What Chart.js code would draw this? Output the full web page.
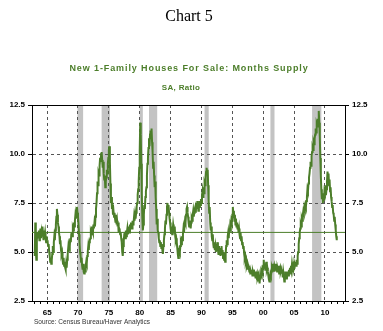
<!DOCTYPE html>
<html>
<head>
<meta charset="utf-8">
<script src="https://cdn.jsdelivr.net/npm/chart.js@4.4.0/dist/chart.umd.min.js"></script>
<style>
  html, body { margin: 0; padding: 0; background: #fff; }
  #wrap { width: 383px; height: 331px; }
</style>
</head>
<body>
<div id="wrap"><canvas id="supply-chart" width="383" height="331"></canvas></div>
<script>
// monthly months-supply readings, Jan 1963 .. Dec 2011
var firstYear = 1963;
var supply = [
  4.8, 6.5, 5.2, 4.6, 5.6, 6.0, 5.7, 5.9, 6.1, 5.6, 5.9, 6.2, // 1963
  5.7, 6.0, 5.8, 6.3, 5.9, 5.6, 6.1, 5.8, 6.0, 5.7, 5.5, 5.8, // 1964
  5.6, 5.5, 5.3, 5.4, 5.0, 4.8, 4.5, 4.7, 4.4, 4.6, 4.9, 5.3, // 1965
  5.0, 5.5, 5.8, 5.6, 6.1, 6.4, 6.8, 7.2, 6.9, 6.5, 6.3, 6.0, // 1966
  5.8, 5.4, 5.6, 5.1, 4.9, 5.0, 4.6, 4.4, 4.7, 4.3, 4.5, 4.2, // 1967
  4.1, 4.4, 4.2, 4.6, 4.9, 5.2, 5.0, 5.4, 5.3, 5.7, 5.5, 5.9, // 1968
  6.0, 5.8, 6.2, 6.1, 6.5, 6.3, 6.6, 6.9, 6.7, 7.1, 7.3, 7.0, // 1969
  6.8, 6.4, 5.9, 5.5, 5.0, 4.8, 4.5, 4.7, 4.3, 4.1, 4.4, 4.0, // 1970
  3.9, 4.2, 4.0, 4.3, 4.5, 4.4, 4.8, 5.0, 5.3, 5.1, 5.5, 5.6, // 1971
  5.7, 6.0, 5.9, 6.3, 6.1, 6.0, 6.4, 6.2, 6.5, 6.3, 6.8, 7.2, // 1972
  7.5, 8.0, 8.6, 8.4, 9.0, 8.9, 9.4, 9.8, 9.6, 10.0, 10.1, 9.7, // 1973
  9.3, 9.6, 9.0, 8.7, 8.9, 8.3, 8.6, 8.8, 9.2, 9.0, 9.5, 9.8, // 1974
  10.2, 10.4, 9.6, 8.5, 7.5, 7.8, 7.2, 7.4, 6.9, 7.1, 6.8, 7.0, // 1975
  6.7, 6.5, 6.9, 6.4, 6.6, 6.3, 6.5, 6.0, 6.2, 6.1, 5.9, 6.0, // 1976
  5.7, 5.5, 5.0, 4.8, 5.3, 5.6, 5.9, 6.0, 5.7, 6.1, 5.8, 6.0, // 1977
  6.2, 5.9, 6.3, 6.1, 6.0, 6.4, 6.2, 6.5, 6.3, 6.2, 6.6, 6.4, // 1978
  6.5, 6.8, 6.6, 6.9, 6.7, 7.0, 7.3, 7.5, 7.9, 8.2, 8.6, 9.3, // 1979
  10.2, 11.6, 11.0, 9.5, 8.0, 6.8, 6.1, 6.4, 6.9, 7.4, 7.2, 7.8, // 1980
  8.1, 8.3, 8.9, 9.5, 9.8, 10.3, 10.8, 10.4, 11.0, 11.2, 10.8, 11.3, // 1981
  10.6, 10.1, 9.3, 9.6, 8.9, 8.3, 8.6, 7.8, 7.2, 6.4, 6.7, 6.1, // 1982
  6.0, 5.7, 5.5, 5.6, 5.3, 5.5, 5.2, 5.4, 5.1, 4.9, 5.3, 5.6, // 1983
  5.9, 6.2, 6.6, 6.4, 6.9, 7.3, 7.5, 7.1, 7.4, 7.0, 6.7, 6.5, // 1984
  6.2, 6.0, 6.3, 5.9, 6.1, 6.4, 6.2, 6.0, 6.3, 5.8, 5.6, 5.7, // 1985
  5.5, 5.2, 4.9, 4.7, 4.9, 5.1, 5.0, 5.3, 5.5, 5.4, 5.8, 5.6, // 1986
  5.9, 6.2, 6.0, 6.3, 6.6, 6.5, 6.9, 7.2, 7.3, 7.0, 6.8, 6.5, // 1987
  6.3, 6.4, 6.6, 6.2, 6.5, 6.7, 6.6, 6.9, 7.1, 6.8, 7.0, 7.2, // 1988
  7.3, 7.0, 7.5, 7.2, 7.6, 7.4, 7.1, 7.5, 7.3, 7.6, 7.4, 7.7, // 1989
  7.5, 7.9, 8.1, 7.8, 8.3, 8.0, 8.5, 8.4, 8.8, 9.1, 9.3, 9.0, // 1990
  9.2, 8.4, 7.6, 7.0, 7.3, 6.5, 6.1, 6.3, 5.8, 5.6, 5.9, 5.4, // 1991
  5.2, 5.5, 5.1, 5.3, 5.0, 5.4, 5.2, 5.5, 5.1, 4.9, 5.3, 5.0, // 1992
  5.2, 4.8, 5.1, 5.3, 4.9, 5.1, 4.7, 5.0, 4.6, 4.8, 4.5, 4.9, // 1993
  5.3, 5.6, 5.4, 5.8, 6.0, 5.7, 6.2, 6.0, 6.4, 6.3, 6.6, 6.5, // 1994
  6.9, 7.3, 6.8, 7.1, 6.6, 6.9, 6.4, 6.7, 6.3, 6.5, 6.2, 6.4, // 1995
  6.0, 6.2, 5.9, 5.7, 6.0, 5.6, 5.8, 5.4, 5.5, 5.2, 5.3, 4.9, // 1996
  4.7, 4.8, 4.5, 4.6, 4.3, 4.4, 4.1, 4.3, 4.2, 4.0, 4.2, 3.9, // 1997
  4.0, 3.9, 4.1, 3.8, 4.0, 3.9, 4.1, 3.8, 3.9, 3.7, 4.0, 3.8, // 1998
  3.9, 3.7, 3.8, 3.5, 3.7, 3.4, 3.8, 3.6, 4.0, 3.9, 4.1, 4.0, // 1999
  4.3, 4.6, 4.2, 4.4, 4.1, 4.3, 4.5, 4.1, 4.2, 4.0, 3.8, 3.6, // 2000
  3.5, 3.7, 3.9, 3.8, 4.0, 4.2, 4.1, 4.4, 4.2, 4.3, 4.0, 4.2, // 2001
  4.4, 4.1, 4.3, 4.0, 4.2, 4.1, 4.3, 3.9, 4.1, 4.2, 4.0, 4.1, // 2002
  3.9, 4.1, 3.7, 4.0, 3.8, 3.5, 3.9, 3.7, 4.0, 3.8, 3.6, 3.9, // 2003
  4.0, 3.8, 4.1, 3.9, 4.2, 4.0, 4.3, 4.1, 4.4, 4.2, 4.3, 4.1, // 2004
  4.2, 4.4, 4.3, 4.5, 4.3, 4.6, 4.4, 4.8, 5.0, 5.4, 5.7, 6.0, // 2005
  6.2, 6.4, 6.3, 6.7, 6.6, 6.9, 7.1, 7.0, 7.3, 7.2, 7.4, 7.3, // 2006
  7.6, 7.8, 8.2, 8.1, 8.5, 8.8, 9.0, 9.3, 9.6, 9.4, 9.9, 10.1, // 2007
  10.3, 10.2, 10.6, 10.5, 10.8, 11.0, 11.3, 11.1, 11.5, 11.4, 11.8, 11.6, // 2008
  12.2, 11.6, 10.9, 9.8, 8.9, 8.2, 7.7, 7.9, 7.5, 8.0, 7.6, 8.1, // 2009
  8.0, 8.4, 7.9, 8.2, 8.6, 9.1, 8.8, 9.0, 8.4, 8.7, 8.1, 8.3, // 2010
  7.8, 7.6, 7.3, 7.4, 7.0, 6.9, 6.6, 6.8, 6.4, 6.1, 5.8, 5.6  // 2011
];
var averageSupply = 6.0;

// recessions (start, end) in fractional years
var recessionStart = [1969.92, 1973.83, 1980.0, 1981.5, 1990.5, 2001.17, 2007.92];
var recessionEnd   = [1970.83, 1975.17, 1980.5, 1982.83, 1991.17, 2001.83, 2009.42];

var yTicks = [2.5, 5.0, 7.5, 10.0, 12.5];
var xMin = 1962.55, xMax = 2013.25;

var green = '#4c7e2a';
var tickFont = { family: '"Liberation Sans", Arial, sans-serif', size: 8, weight: 'bold' };

var points = supply.map(function (v, i) {
    return { x: firstYear + i / 12, y: v };
});

var yearTicks = [];
for (var yr = 1963; yr <= 2013; yr++) yearTicks.push(yr);

var recessionPlugin = {
    id: 'recessions',
    beforeDraw: function (chart) {
        var c = chart.ctx, area = chart.chartArea, xs = chart.scales.x;
        c.save();
        c.fillStyle = '#fff';
        c.fillRect(0, 0, chart.width, chart.height);
        c.fillStyle = '#c3c3c3';
        for (var i = 0; i < recessionStart.length; i++) {
            var a = xs.getPixelForValue(recessionStart[i]);
            var b = xs.getPixelForValue(recessionEnd[i]);
            c.fillRect(a, area.top, b - a, area.bottom - area.top);
        }
        c.restore();
    },
    afterDraw: function (chart) {
        var c = chart.ctx;
        c.save();
        c.textBaseline = 'middle';
        c.textAlign = 'center';
        c.fillStyle = '#000';
        c.font = '16px "Liberation Serif", "Times New Roman", serif';
        c.fillText('Chart 5', 189, 17);

        c.fillStyle = green;
        c.font = 'bold 9px "Liberation Sans", Arial, sans-serif';
        c.letterSpacing = '0.9px';
        c.fillText('New 1-Family Houses For Sale: Months Supply', 189, 69);
        c.font = 'bold 8px "Liberation Sans", Arial, sans-serif';
        c.letterSpacing = '0.3px';
        c.fillText('SA, Ratio', 181, 88);

        c.letterSpacing = '0px';
        c.textAlign = 'left';
        c.fillStyle = '#333';
        c.font = '6.5px "Liberation Sans", Arial, sans-serif';
        c.fillText('Source: Census Bureau/Haver Analytics', 34, 322);
        c.restore();
    }
};

var ctx = document.getElementById('supply-chart').getContext('2d');
var supplyChart = new Chart(ctx, {
    type: 'line',
    data: {
        datasets: [{
            label: 'Months Supply',
            data: points,
            borderColor: green,
            borderWidth: 2,
            pointRadius: 0,
            tension: 0
        }, {
            label: 'Average',
            data: [{ x: xMin, y: averageSupply }, { x: xMax, y: averageSupply }],
            borderColor: green,
            borderWidth: 1,
            pointRadius: 0
        }]
    },
    options: {
        responsive: false,
        animation: false,
        devicePixelRatio: 1,
        layout: { padding: 0 },
        plugins: { legend: { display: false }, tooltip: { enabled: false } },
        scales: {
            x: {
                type: 'linear',
                position: 'bottom',
                min: xMin,
                max: xMax,
                afterBuildTicks: function (s) { s.ticks = yearTicks.map(function (v) { return { value: v }; }); },
                afterFit: function (s) { s.height = 30; },
                ticks: {
                    autoSkip: false,
                    maxRotation: 0,
                    padding: 4,
                    color: '#000',
                    font: tickFont,
                    callback: function (v) { return v % 5 === 0 ? String(v % 100).padStart(2, '0') : ''; }
                },
                grid: {
                    color: function (c) { return c.tick && c.tick.value % 5 === 0 ? '#555' : 'rgba(0,0,0,0)'; },
                    tickColor: '#000',
                    tickLength: 3,
                    lineWidth: 1
                },
                border: { display: true, color: '#000', width: 1, dash: [3, 3] }
            },
            xTop: {
                type: 'linear',
                position: 'top',
                min: xMin,
                max: xMax,
                afterFit: function (s) { s.height = 105; },
                ticks: { display: false },
                grid: { display: false },
                border: { display: true, color: '#000', width: 1 }
            },
            y: {
                position: 'left',
                min: 2.5,
                max: 12.5,
                afterBuildTicks: function (s) { s.ticks = yTicks.map(function (v) { return { value: v }; }); },
                afterFit: function (s) { s.width = 32; },
                ticks: {
                    padding: 3,
                    color: '#000',
                    font: tickFont,
                    callback: function (v) { return v.toFixed(1); }
                },
                grid: {
                    color: function (c) { return c.tick && (c.tick.value === 2.5 || c.tick.value === 12.5) ? 'rgba(0,0,0,0)' : '#555'; },
                    tickColor: '#000',
                    tickLength: 4
                },
                border: { display: true, color: '#000', width: 1, dash: [3, 3] }
            },
            y2: {
                position: 'right',
                min: 2.5,
                max: 12.5,
                afterBuildTicks: function (s) { s.ticks = yTicks.map(function (v) { return { value: v }; }); },
                afterFit: function (s) { s.width = 38; },
                ticks: {
                    padding: 3,
                    color: '#000',
                    font: tickFont,
                    callback: function (v) { return v.toFixed(1); }
                },
                grid: { drawOnChartArea: false, tickColor: '#000', tickLength: 4 },
                border: { display: true, color: '#000', width: 1 }
            }
        }
    },
    plugins: [recessionPlugin]
});
</script>
</body>
</html>
